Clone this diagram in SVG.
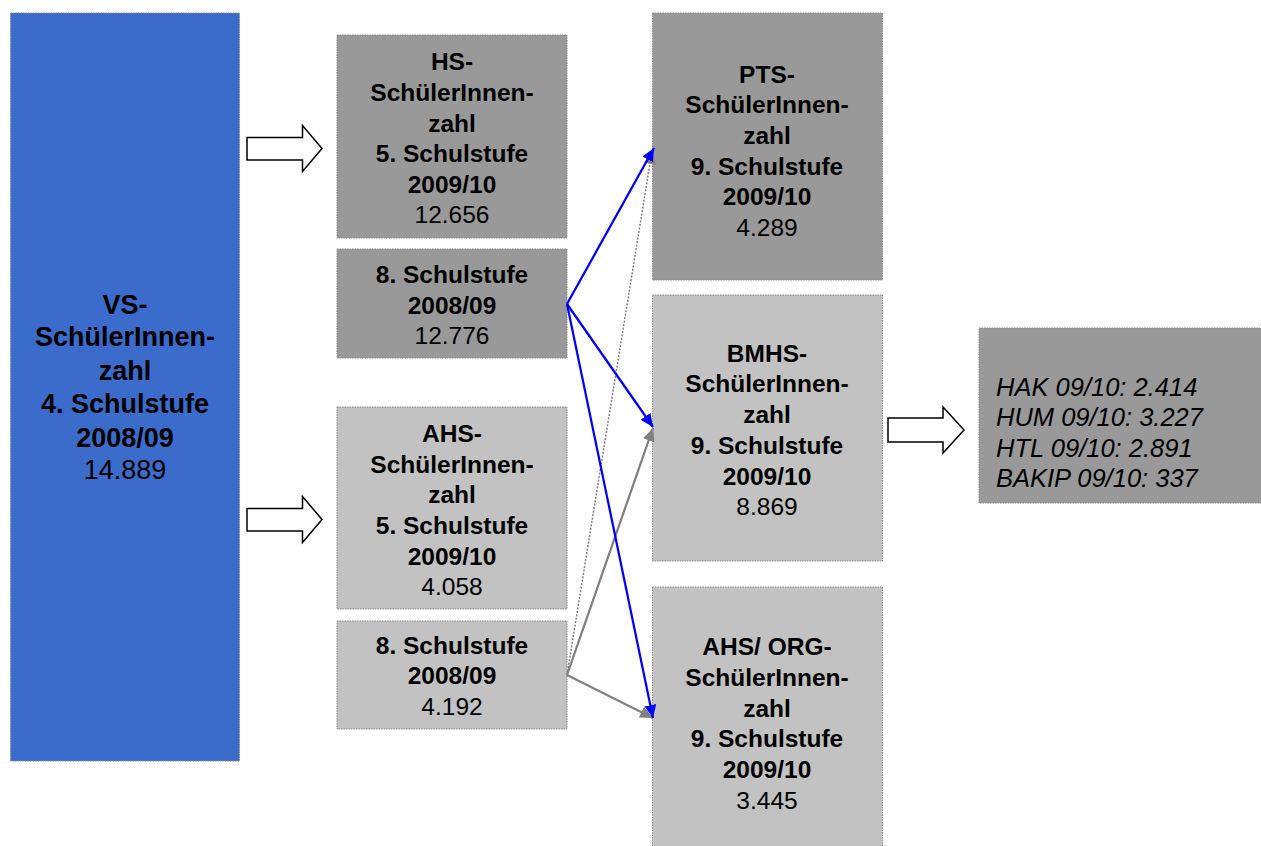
<svg xmlns="http://www.w3.org/2000/svg" width="1261" height="846" viewBox="0 0 1261 846">
<style>
.box{stroke:#8a8a8a;stroke-width:1;stroke-dasharray:1.5 1}
.blue{fill:#3b6bcb}
.dark{fill:#999999}
.light{fill:#c2c2c2}
.t{font-family:"Liberation Sans",Arial,sans-serif;fill:#000;text-anchor:middle}
.b{font-weight:bold}
.big{font-size:27px}
.mid{font-size:24.5px}
.it{font-family:"Liberation Sans",Arial,sans-serif;font-style:italic;font-size:25.5px;fill:#000}
.block{fill:#fff;stroke:#000;stroke-width:1.5}
.cb{fill:none;stroke:#0000ff;stroke-width:2.25}
.cg{fill:none;stroke:#808080;stroke-width:2.25}
.cd{fill:none;stroke:#808080;stroke-width:1.5;stroke-dasharray:2 1.5}
</style>
<defs>
<marker id="ab" markerUnits="userSpaceOnUse" markerWidth="14" markerHeight="12" refX="13" refY="6" orient="auto"><path d="M0,0 L13,6 L0,12 z" fill="#0000ff"/></marker>
<marker id="ag" markerUnits="userSpaceOnUse" markerWidth="14" markerHeight="12" refX="13" refY="6" orient="auto"><path d="M0,0 L13,6 L0,12 z" fill="#808080"/></marker>
</defs>
<rect width="1261" height="846" fill="#fff"/>

<g id="vs">
<rect class="box blue" x="10.5" y="13" width="229" height="748"/>
<text class="t big b" x="125" y="314">VS-</text>
<text class="t big b" x="125" y="346">SchülerInnen-</text>
<text class="t big b" x="125" y="380">zahl</text>
<text class="t big b" x="125" y="413">4. Schulstufe</text>
<text class="t big b" x="125" y="447">2008/09</text>
<text class="t big" x="125" y="479">14.889</text>
</g>

<g id="hs5">
<rect class="box dark" x="337" y="35" width="230" height="203"/>
<text class="t mid b" x="452" y="70">HS-</text>
<text class="t mid b" x="452" y="101">SchülerInnen-</text>
<text class="t mid b" x="452" y="132">zahl</text>
<text class="t mid b" x="452" y="162">5. Schulstufe</text>
<text class="t mid b" x="452" y="193">2009/10</text>
<text class="t mid" x="452" y="223">12.656</text>
</g>

<g id="hs8">
<rect class="box dark" x="337" y="249" width="230" height="109"/>
<text class="t mid b" x="452" y="283">8. Schulstufe</text>
<text class="t mid b" x="452" y="314">2008/09</text>
<text class="t mid" x="452" y="344">12.776</text>
</g>

<g id="ahs5">
<rect class="box light" x="337" y="407" width="230" height="202"/>
<text class="t mid b" x="452" y="442">AHS-</text>
<text class="t mid b" x="452" y="473">SchülerInnen-</text>
<text class="t mid b" x="452" y="503">zahl</text>
<text class="t mid b" x="452" y="534">5. Schulstufe</text>
<text class="t mid b" x="452" y="565">2009/10</text>
<text class="t mid" x="452" y="595">4.058</text>
</g>

<g id="ahs8">
<rect class="box light" x="337" y="621" width="230" height="108"/>
<text class="t mid b" x="452" y="654">8. Schulstufe</text>
<text class="t mid b" x="452" y="684">2008/09</text>
<text class="t mid" x="452" y="715">4.192</text>
</g>

<g id="pts">
<rect class="box dark" x="652.5" y="13" width="230" height="267"/>
<text class="t mid b" x="767" y="83">PTS-</text>
<text class="t mid b" x="767" y="113">SchülerInnen-</text>
<text class="t mid b" x="767" y="144">zahl</text>
<text class="t mid b" x="767" y="175">9. Schulstufe</text>
<text class="t mid b" x="767" y="205">2009/10</text>
<text class="t mid" x="767" y="236">4.289</text>
</g>

<g id="bmhs">
<rect class="box light" x="652.5" y="295" width="230" height="266"/>
<text class="t mid b" x="767" y="362">BMHS-</text>
<text class="t mid b" x="767" y="392">SchülerInnen-</text>
<text class="t mid b" x="767" y="423">zahl</text>
<text class="t mid b" x="767" y="454">9. Schulstufe</text>
<text class="t mid b" x="767" y="485">2009/10</text>
<text class="t mid" x="767" y="515">8.869</text>
</g>

<g id="ahsorg">
<rect class="box light" x="652.5" y="587" width="230" height="262"/>
<text class="t mid b" x="767" y="655">AHS/ ORG-</text>
<text class="t mid b" x="767" y="686">SchülerInnen-</text>
<text class="t mid b" x="767" y="717">zahl</text>
<text class="t mid b" x="767" y="747">9. Schulstufe</text>
<text class="t mid b" x="767" y="778">2009/10</text>
<text class="t mid" x="767" y="809">3.445</text>
</g>

<g id="details">
<rect class="box dark" x="979" y="328" width="285" height="175"/>
<text class="it" x="996" y="396">HAK 09/10: 2.414</text>
<text class="it" x="996" y="426">HUM 09/10: 3.227</text>
<text class="it" x="996" y="457">HTL 09/10: 2.891</text>
<text class="it" x="996" y="487">BAKIP 09/10: 337</text>
</g>

<g id="connectors">
<path class="block" d="M247,137.5 H302.5 V125.5 L322,148.5 L302.5,171.5 V160 H247 Z"/>
<path class="block" d="M247,508.5 H302.5 V496.5 L322,519.5 L302.5,542.5 V531 H247 Z"/>
<path class="block" d="M888,418 H943 V407 L964,430 L943,453 V442 H888 Z"/>
<path class="cd" d="M567,675 L652,151" marker-end="url(#ag)"/>
<path class="cg" d="M567,675 L653,428" marker-end="url(#ag)"/>
<path class="cg" d="M567,675 L653,718" marker-end="url(#ag)"/>
<path class="cb" d="M567,304 L654,148" marker-end="url(#ab)"/>
<path class="cb" d="M567,304 L653,427" marker-end="url(#ab)"/>
<path class="cb" d="M567,304 L653,718" marker-end="url(#ab)"/>
</g>
</svg>
